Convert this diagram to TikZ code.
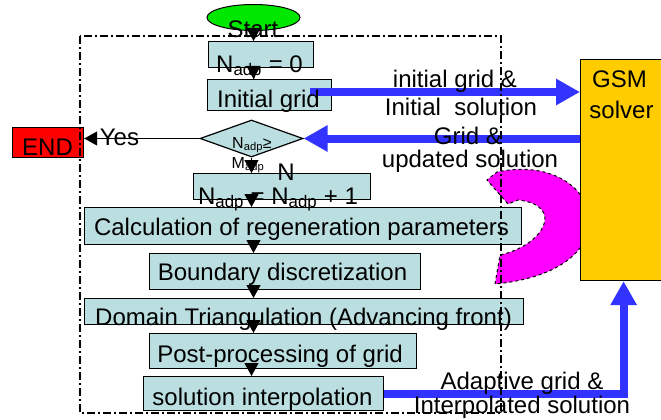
\documentclass[tikz,border=0pt]{standalone}
\usepackage{fontspec}
\setmainfont{Liberation Sans}
\usetikzlibrary{shapes.geometric,arrows.meta}
\definecolor{boxblue}{RGB}{187,222,224}
\definecolor{arrowblue}{RGB}{51,51,255}
\definecolor{gsmorange}{RGB}{255,204,0}
\definecolor{startgreen}{RGB}{0,232,0}
\definecolor{turnmagenta}{RGB}{255,0,255}
\begin{document}
\begin{tikzpicture}[x=1pt,y=-1pt,
	every node/.style={inner sep=0pt,font=\fontsize{24}{27.5}\selectfont},
	stepbox/.style={draw,line width=1.2pt,fill=boxblue,anchor=north west},
	lbl/.style={anchor=base},
	flow/.style={line width=1.2pt,-{Triangle[width=14pt,length=13pt]}},
	bigarrow/.style={line width=8pt,draw=arrowblue,-{Triangle[width=25pt,length=24pt]}},
	frame/.style={line width=1.2pt,dash pattern=on 8pt off 3pt on 2pt off 3pt}]
	\useasboundingbox (0,0) rectangle (661,420);
	% turn-around arrow behind the solver
	\filldraw[fill=turnmagenta,dashed,line width=1pt](495,284)--(500,255)
		.. controls (545,245) and (565,205) .. (518,200)--(508,204)--(487,180)--(497,172)
		.. controls (600,150) and (640,270) .. (495,284)--cycle;
	\node[draw,line width=1.2pt,fill=gsmorange,anchor=north west,minimum width=86,minimum height=221](gsm) at (580,59){};
	\node[lbl](gsmt1) at (619.5,88){GSM};
	\node[lbl](gsmt2) at (621.5,118){solver};
	% flow chart
	\node[ellipse,draw,line width=1pt,fill=startgreen,minimum width=93,minimum height=26](start) at (253.5,17.5){};
	\node[stepbox,minimum width=105,minimum height=26](nzero) at (208,41){};
	\node[stepbox,minimum width=124,minimum height=31](init) at (207,79){};
	\node[diamond,draw,line width=1.2pt,fill=boxblue,minimum width=103,minimum height=37](dec) at (251.5,138.5){};
	\node[draw,line width=1.2pt,fill=red,anchor=north west,minimum width=71,minimum height=30](endb) at (12,127){};
	\node[stepbox,minimum width=177,minimum height=26](nadd) at (193,173){};
	\node[stepbox,minimum width=437,minimum height=37](calc) at (84,207){};
	\node[stepbox,minimum width=271,minimum height=36](bound) at (149,253){};
	\node[stepbox,minimum width=439,minimum height=26](dom) at (84,298){};
	\node[stepbox,minimum width=267,minimum height=35](post) at (149,333){};
	\node[stepbox,minimum width=240,minimum height=34](sol) at (143,376){};
	% connectors
	\draw[flow](start.south)--(start.south|-nzero.north);
	\draw[flow](start.south|-nzero.south)--(start.south|-init.north);
	\draw[flow](dec.west)--(dec.west-|endb.east);
	\draw[flow](dec.south)--(dec.south|-nadd.north);
	\draw[flow](dec.south|-nadd.south)--(dec.south|-calc.north);
	\draw[flow](start.south|-calc.south)--(start.south|-bound.north);
	\draw[flow](start.south|-bound.south)--(start.south|-dom.north);
	\draw[flow](start.south|-dom.south)--(start.south|-post.north);
	\draw[flow](dec.south|-post.south)--(dec.south|-sol.north);
	\coordinate(ia) at (310,92);
	\draw[bigarrow](ia)--(ia-|gsm.west);
	\draw[bigarrow](gsm.west|-dec.east)--(dec.east);
	\draw[bigarrow](sol.east)--(sol.east-|gsm.south)--(gsm.south);
	% texts
	\node[lbl](startt) at (253,38){Start};
	\node[lbl](nzerot) at (259.5,72){N\textsubscript{adp} = 0};
	\node[lbl](initt) at (268.5,107){Initial grid};
	\node[lbl,font=\fontsize{16}{19}\selectfont](dect1) at (252,148){N\textsubscript{adp}≥};
	\node[lbl,font=\fontsize{16}{19}\selectfont](dect2) at (248,168){M\textsubscript{adp}};
	\node[lbl](nlbl) at (286,180){N};
	\node[lbl](yes) at (119.5,145){Yes};
	\node[lbl](endt) at (47.5,155){END};
	\node[lbl](naddt) at (278,204){N\textsubscript{adp} = N\textsubscript{adp} + 1};
	\node[lbl](calct) at (301.5,235){Calculation of regeneration parameters};
	\node[lbl](boundt) at (282.5,280){Boundary discretization};
	\node[lbl](domt) at (303.5,325){Domain Triangulation (Advancing front)};
	\node[lbl](postt) at (280,362){Post-processing of grid};
	\node[lbl](solt) at (262.5,405){solution interpolation};
	\node[lbl](laba1) at (455,88){initial grid \&};
	\node[lbl](laba2) at (461,115){Initial\ \ solution};
	\node[lbl](labb1) at (468,144){Grid \&};
	\node[lbl](labb2) at (470,167){updated solution};
	\node[lbl](labc1) at (522,389){Adaptive grid \&};
	\node[lbl](labc2) at (522,413){Interpolated solution};
	% loop frame
	\draw[frame](80,36) rectangle (501,413);
\end{tikzpicture}
\end{document}
